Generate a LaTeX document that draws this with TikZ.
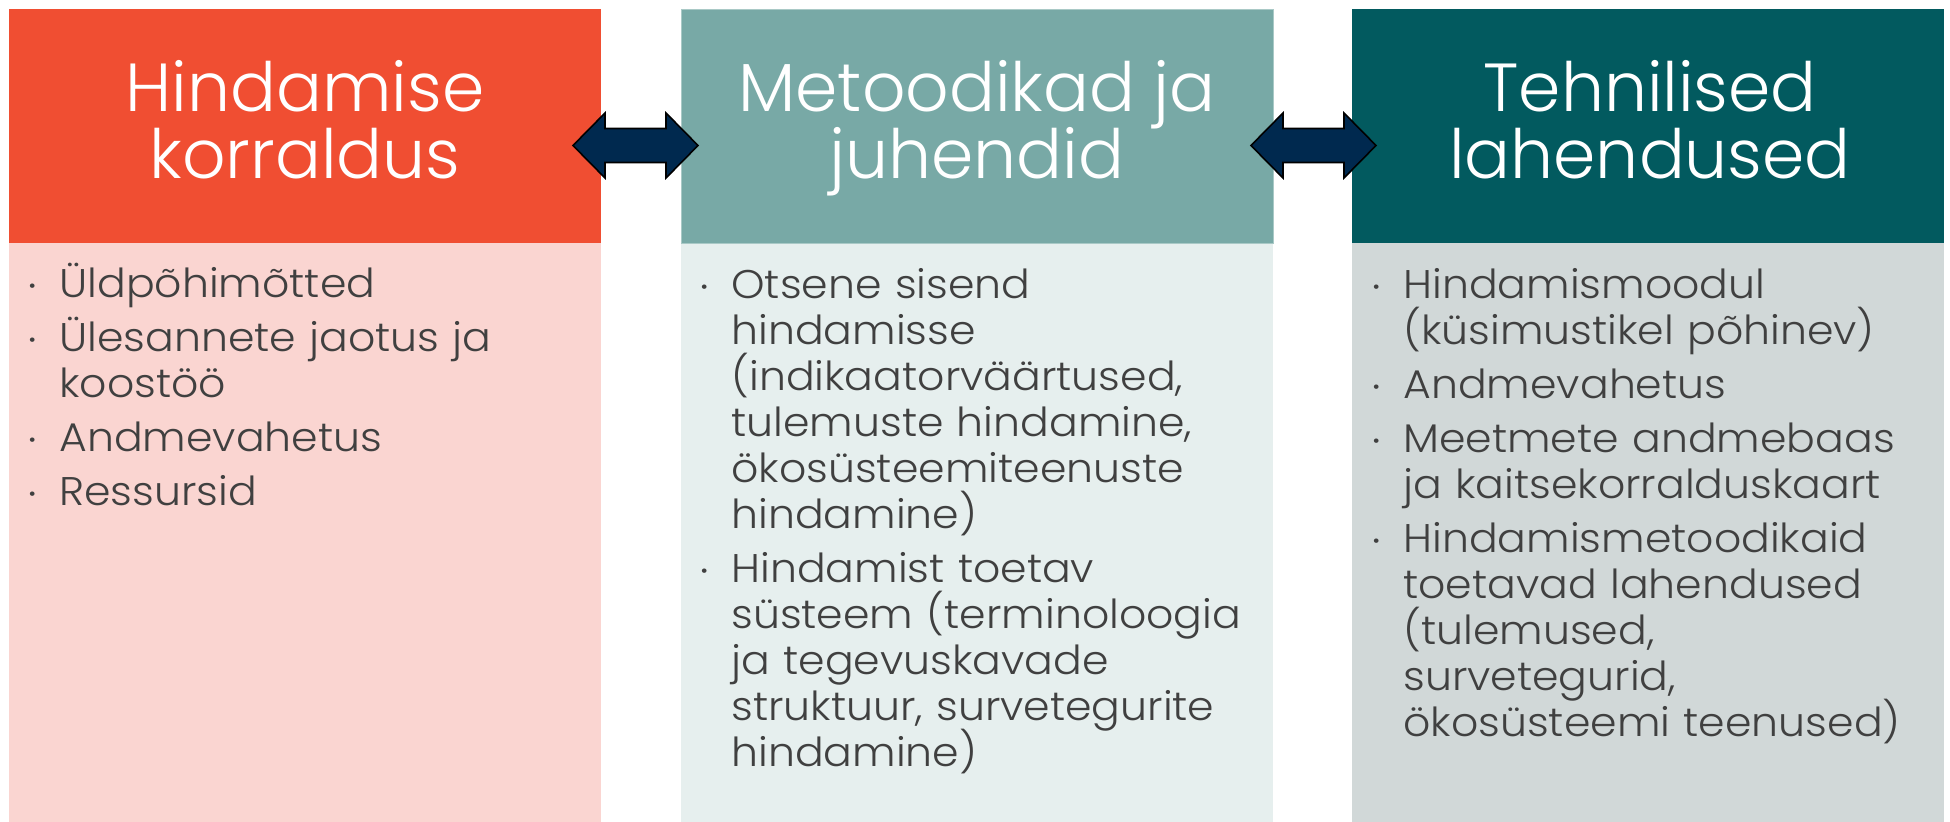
\documentclass[tikz,border=0pt]{standalone}
\usepackage{fontspec}
\setmainfont{Poppins}[UprightFont=* Light]
\newfontfamily\bodyfam{Poppins}[UprightFont=* Light, FakeStretch=1.065]
\definecolor{cRed}{HTML}{F04E32}
\definecolor{cRedL}{HTML}{FAD5D1}
\definecolor{cTeal}{HTML}{78A9A6}
\definecolor{cTealB}{HTML}{A9C9C6}
\definecolor{cTealL}{HTML}{E6EFEE}
\definecolor{cDark}{HTML}{025A5F}
\definecolor{cGrey}{HTML}{D1D8D8}
\definecolor{cArrow}{HTML}{00294F}
\definecolor{cText}{HTML}{404040}
\newcommand\hdrfont{\fontsize{34pt}{33.5pt}\selectfont\setlength{\lineskiplimit}{-100pt}\relax}
\newcommand\bdyfont{\bodyfam\fontsize{20pt}{23pt}\selectfont\setlength{\lineskiplimit}{-100pt}\setlength{\parindent}{0pt}\setlength{\parskip}{4pt}\relax}
\newcommand\bulmark{\llap{\makebox[0pt][c]{\raisebox{2.6pt}{\fontsize{9.5pt}{9.5pt}\selectfont •}}\hspace{13.5pt}}}
\newcommand\hstrut{\rule{0pt}{30pt}}
\newcommand\bstrut{\rule{0pt}{20pt}}
\newcommand\firstbul{\noindent\bulmark\bstrut}
\newcommand\nextbul{\par\noindent\bulmark}
\tikzset{
  hdr/.style={anchor=north west, inner sep=0pt, minimum width=296pt, minimum height=117pt},
  bdy/.style={anchor=north west, inner sep=0pt, minimum width=296pt, minimum height=289.5pt},
  htext/.style={anchor=north, inner sep=0pt, text=white, align=center, font=\hdrfont},
  btext/.style={anchor=north west, inner sep=0pt, text=cText, text width=300pt, align=left, font=\bdyfont},
  blockarrow/.style={fill=cArrow, draw=black, line width=0.8pt, line join=miter}
}
\begin{document}
\begin{tikzpicture}[x=0.5pt,y=-0.5pt]
\useasboundingbox (0,0) rectangle (1950,822);
% boxes
\node (b1) [bdy, fill=cRedL] at (9,243) {};
\node (b2) [bdy, fill=cTealL] at (681,243) {};
\node (b3) [bdy, fill=cGrey] at (1352,243) {};
\node (h1) [hdr, fill=cRed] at (9,9) {};
\node (h2) [hdr, fill=cTeal, draw=cTealB, line width=0.6pt] at (681,9) {};
\node (h3) [hdr, fill=cDark] at (1352,9) {};
% header texts
\node (ht1) [htext] at (305,51) {\hstrut Hindamise\\korraldus};
\node (ht2) [htext] at (977,51) {\hstrut Metoodikad ja\\juhendid};
\node (ht3) [htext] at (1650,51) {\hstrut Tehnilised\\lahendused};
% body texts
\node (bt1) [btext] at (59,257) {\firstbul Üldpõhimõtted
  \nextbul Ülesannete jaotus ja\newline koostöö
  \nextbul Andmevahetus
  \nextbul Ressursid};
\node (bt2) [btext] at (731,258) {\firstbul Otsene sisend\newline hindamisse\newline (indikaatorväärtused,\newline tulemuste hindamine,\newline ökosüsteemiteenuste\newline hindamine)
  \nextbul Hindamist toetav\newline süsteem (terminoloogia\newline ja tegevuskavade\newline struktuur, survetegurite\newline hindamine)};
\node (bt3) [btext] at (1403,258) {\firstbul Hindamismoodul\newline (küsimustikel põhinev)
  \nextbul Andmevahetus
  \nextbul Meetmete andmebaas\newline ja kaitsekorralduskaart
  \nextbul Hindamismetoodikaid\newline toetavad lahendused\newline (tulemused,\newline survetegurid,\newline ökosüsteemi teenused)};
% double arrows between headers
\coordinate (a12) at (635.5,145.5);
\coordinate (a23) at (1313.5,145.5);
\foreach \c in {a12,a23}{
  \draw[blockarrow, shift={(\c)}] (-62.5,0) -- (-30.5,-32.5) -- (-30.5,-17) -- (30.5,-17)
    -- (30.5,-32.5) -- (62.5,0) -- (30.5,32.5) -- (30.5,17) -- (-30.5,17) -- (-30.5,32.5) -- cycle;
}
\end{tikzpicture}
\end{document}
